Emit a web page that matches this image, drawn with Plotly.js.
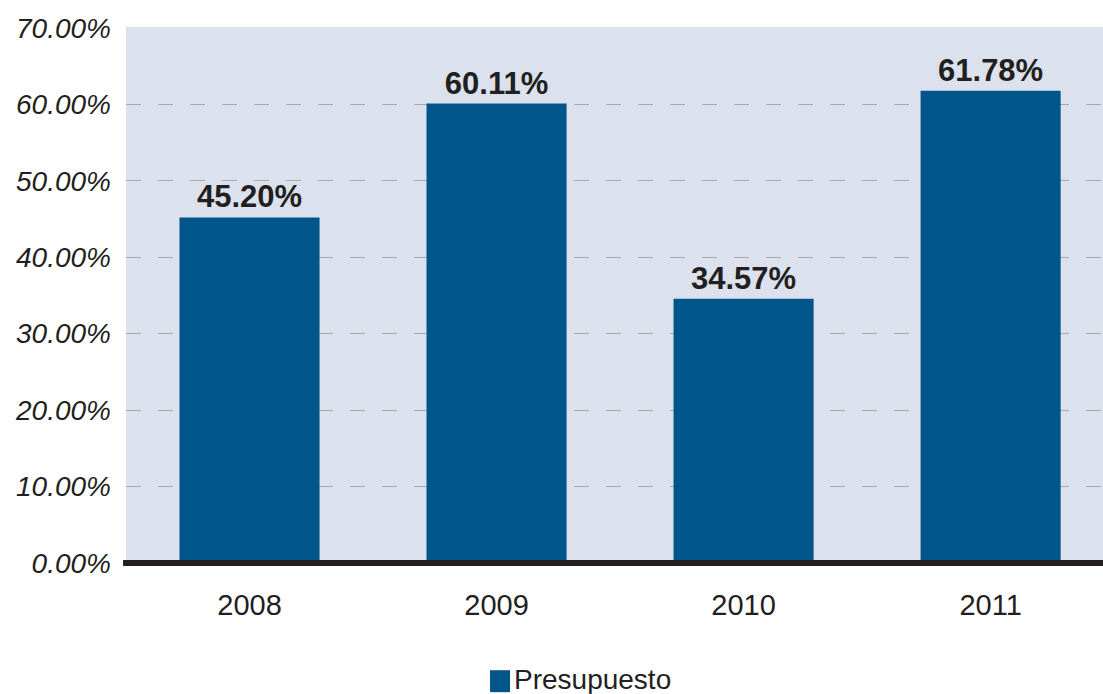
<!DOCTYPE html>
<html><head><meta charset="utf-8">
<script src="https://cdn.plot.ly/plotly-3.0.1.min.js"></script>
<style>html,body{margin:0;padding:0;background:#fff}#chart{width:1103px;height:694px}</style>
</head><body><div id="chart"></div>
<script>
const years = ['2008', '2009', '2010', '2011'];
const presupuesto = [45.20, 60.11, 34.57, 61.78];
const yTicks = [0, 10, 20, 30, 40, 50, 60, 70];
const seriesName = 'Presupuesto';
const barColor = '#00568a';

const trace = {
  type: 'bar', x: years, y: presupuesto, name: seriesName,
  marker: {color: barColor}, width: 0.567,
  text: presupuesto.map(v => v.toFixed(2) + '%'),
  textposition: 'outside', cliponaxis: false,
  textfont: {family: 'Liberation Sans, Arial, sans-serif', size: 31, color: '#231f20', weight: 'bold'},
  showlegend: false
};
const layout = {
  width: 1103, height: 694,
  margin: {l: 126, r: 0, t: 27, b: 131},
  paper_bgcolor: '#ffffff', plot_bgcolor: '#dce2ed',
  font: {family: 'Liberation Sans, Arial, sans-serif', color: '#231f20'},
  xaxis: {type: 'category', range: [-0.5, 3.455], showgrid: false, zeroline: false,
    tickfont: {size: 29, color: '#231f20'}, ticks: '', ticklabelstandoff: 22},
  yaxis: {range: [0, 70.12], tickvals: yTicks, ticktext: yTicks.map(v => v.toFixed(2) + '%'),
    showgrid: true, gridcolor: '#a8a8a8', gridwidth: 1, griddash: '15px,17px',
    zeroline: false, ticks: '', ticklabelstandoff: 14,
    tickfont: {size: 28, color: '#231f20', style: 'italic'}},
  shapes: [
    {type: 'line', xref: 'paper', yref: 'paper', x0: -0.003, x1: 1, y0: 0, y1: 0,
      line: {color: '#231f20', width: 6}, layer: 'above'},
    {type: 'rect', xref: 'paper', yref: 'paper', x0: 0.3726, x1: 0.3931, y0: -0.2, y1: -0.241,
      fillcolor: barColor, line: {width: 0}}
  ],
  annotations: [
    {xref: 'paper', yref: 'paper', x: 0.3951, y: -0.2165, xanchor: 'left', yanchor: 'middle',
      text: seriesName, showarrow: false, font: {size: 28, color: '#231f20'}}
  ],
  showlegend: false
};
Plotly.newPlot('chart', [trace], layout, {displayModeBar: false, staticPlot: true});
</script></body></html>
